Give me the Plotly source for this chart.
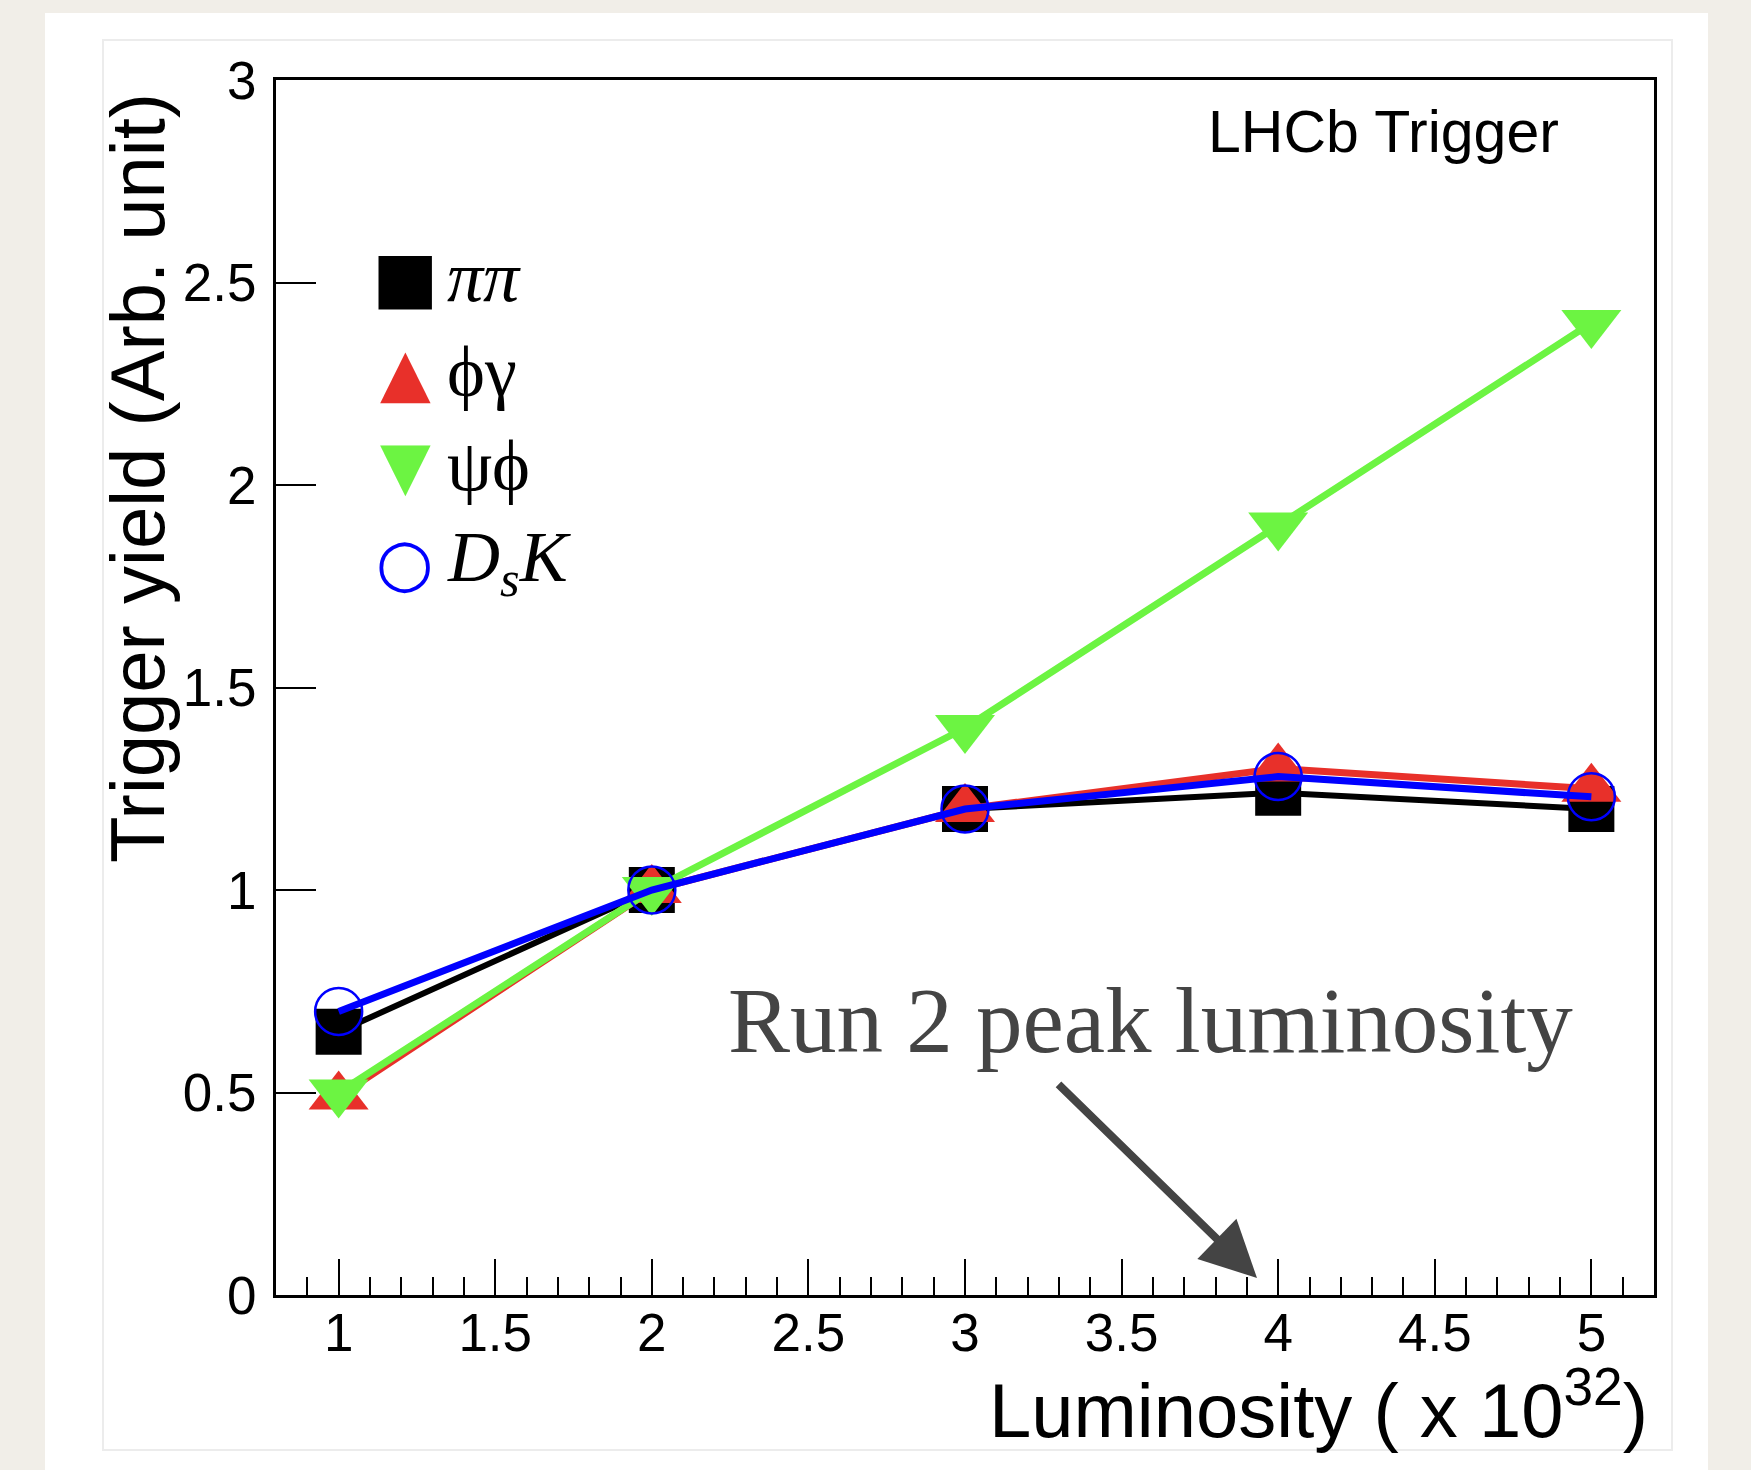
import plotly.graph_objects as go

# ---------------- data ----------------
luminosity = [1, 2, 3, 4, 5]
yield_pipi = [0.65, 1.00, 1.20, 1.24, 1.20]
yield_phigamma = [0.49, 1.00, 1.20, 1.30, 1.25]
yield_psiphi = [0.50, 1.00, 1.40, 1.90, 2.40]
yield_dsk = [0.70, 1.00, 1.20, 1.28, 1.23]

series_names = ["ππ", "ϕγ", "ψϕ", "DsK"]
legend_labels = ["<i>ππ</i>", "ϕγ", "ψϕ", "<i>D</i><sub><i>s</i></sub><i>K</i>"]
legend_glyphs = ["■", "▲", "▼", "○"]
colors = ["#000000", "#e8302a", "#6cf442", "#0000ff"]

x_ticks_major = 0.5
x_ticks_minor = 0.1
y_ticks_major = 0.5

# ---------------- layout geometry (pixels) ----------------
W, H = 1751, 1470
L, R, T, B = 276, 1654, 80, 1295
PW, PH = R - L, B - T


def px(xp):
    return (xp - L) / PW


def py(yp):
    return (B - yp) / PH


SANS = "Liberation Sans, Arial, Helvetica, sans-serif"
SERIF = "Liberation Serif, Times New Roman, serif"

fig = go.Figure()

series = [yield_pipi, yield_phigamma, yield_psiphi, yield_dsk]
markers = [
    dict(symbol="square", size=46, color=colors[0]),
    dict(symbol="triangle-up", size=52, color=colors[1]),
    dict(symbol="triangle-down", size=52, color=colors[2]),
    dict(symbol="circle-open", size=47, color=colors[3], line=dict(width=2.5)),
]
widths = [6, 7, 7, 7]
for name, ys, mk, c, w in zip(series_names, series, markers, colors, widths):
    fig.add_trace(go.Scatter(
        x=luminosity, y=ys, mode="lines+markers", name=name,
        line=dict(color=c, width=w), marker=mk, showlegend=False,
    ))

annotations = []
# legend (glyph + label)
legend_rows_px = [277, 372, 466, 562]
glyph_sizes = [70, 66, 66, 66]
for g, lab, c, yp, gs in zip(legend_glyphs, legend_labels, colors, legend_rows_px, glyph_sizes):
    annotations.append(dict(
        x=px(405), y=py(yp), xref="paper", yref="paper", text=g, showarrow=False,
        xanchor="center", yanchor="middle",
        font=dict(family="DejaVu Sans", size=gs, color=c),
    ))
    annotations.append(dict(
        x=px(445), y=py(yp), xref="paper", yref="paper", text=lab, showarrow=False,
        xanchor="left", yanchor="middle",
        font=dict(family=SERIF, size=72, color="black"),
    ))

annotations += [
    dict(x=px(1561), y=py(132), xref="paper", yref="paper", text="LHCb Trigger",
         showarrow=False, xanchor="right", yanchor="middle",
         font=dict(family=SANS, size=59, color="black")),
    dict(x=px(726), y=py(1020), xref="paper", yref="paper", text="Run 2 peak luminosity",
         showarrow=False, xanchor="left", yanchor="middle",
         font=dict(family=SERIF, size=93, color="#444444")),
    dict(x=px(137), y=py(478), xref="paper", yref="paper", text="Trigger yield (Arb. unit)",
         showarrow=False, xanchor="center", yanchor="middle", textangle=-90,
         font=dict(family=SANS, size=76, color="black")),
    dict(x=px(1650), y=py(1405), xref="paper", yref="paper",
         text="Luminosity ( x 10<sup>32</sup>)",
         showarrow=False, xanchor="right", yanchor="middle",
         font=dict(family=SANS, size=76, color="black")),
    dict(x=px(1257), y=py(1278), xref="paper", yref="paper", text="",
         showarrow=True, ax=1057 - 1257, ay=1083 - 1278, axref="pixel", ayref="pixel",
         arrowhead=2, arrowsize=1.4, arrowwidth=8, arrowcolor="#444444", standoff=0),
]

shapes = [
    dict(type="rect", xref="paper", yref="paper", x0=px(45), x1=px(1708), y0=py(13), y1=py(1475),
         fillcolor="white", line=dict(width=0), layer="below"),
    dict(type="rect", xref="paper", yref="paper", x0=px(103), x1=px(1672), y0=py(40), y1=py(1450),
         fillcolor="white", line=dict(width=2, color="#ececec"), layer="below"),
]

fig.update_layout(
    width=W, height=H,
    margin=dict(l=L, r=W - R, t=T, b=H - B, pad=0),
    paper_bgcolor="#f1eee8", plot_bgcolor="white",
    annotations=annotations, shapes=shapes, showlegend=False,
    font=dict(family=SANS, color="black"),
)
fig.update_xaxes(
    range=[0.8, 5.2], tick0=1, dtick=x_ticks_major, ticks="inside", ticklen=36, tickwidth=2,
    tickcolor="black", showline=True, linecolor="black", linewidth=3, mirror=True,
    showgrid=False, zeroline=False, tickfont=dict(family=SANS, size=53, color="black"),
    minor=dict(tick0=1, dtick=x_ticks_minor, ticks="inside", ticklen=18, tickwidth=2,
               tickcolor="black", showgrid=False),
    ticklabelstandoff=-11,
)
fig.update_yaxes(
    range=[0, 3], tick0=0, dtick=y_ticks_major, ticks="inside", ticklen=40, tickwidth=2,
    tickcolor="black", showline=True, linecolor="black", linewidth=3, mirror=True,
    showgrid=False, zeroline=False, tickfont=dict(family=SANS, size=53, color="black"),
    ticklabelstandoff=6,
)

fig.write_html("out.html")
